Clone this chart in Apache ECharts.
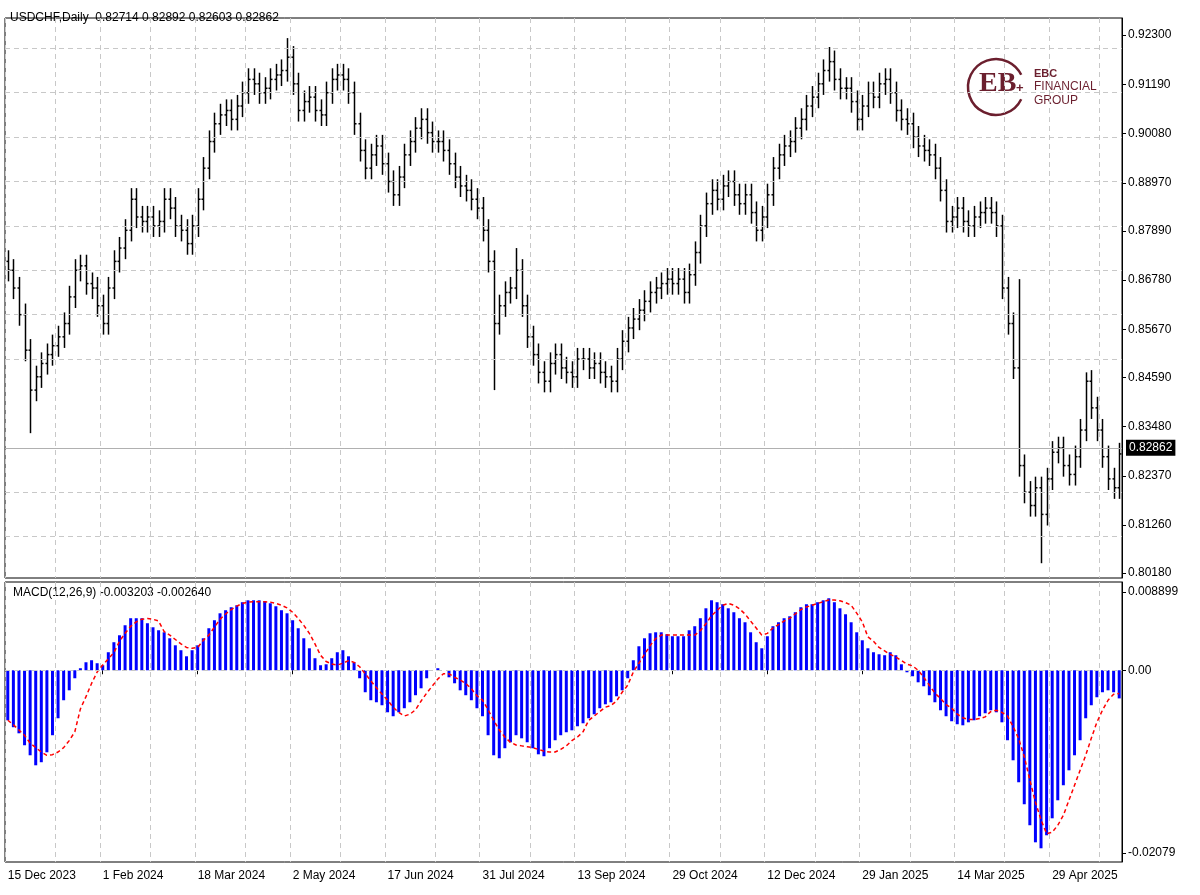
<!DOCTYPE html>
<html><head><meta charset="utf-8">
<script src="https://cdn.jsdelivr.net/npm/echarts@6/dist/echarts.min.js"></script>
<style>html,body{margin:0;padding:0;background:#fff}#c{width:1200px;height:895px}</style>
</head><body><div id="c"></div>
<script>
const closes=[0.870,0.866,0.860,0.852,0.843,0.846,0.849,0.851,0.853,0.855,
0.858,0.864,0.870,0.871,0.867,0.866,0.862,0.858,0.866,0.872,
0.875,0.879,0.886,0.882,0.881,0.882,0.880,0.881,0.886,0.884,
0.880,0.879,0.876,0.880,0.886,0.893,0.899,0.903,0.905,0.906,
0.904,0.907,0.910,0.913,0.912,0.910,0.911,0.913,0.914,0.915,
0.918,0.912,0.906,0.908,0.909,0.906,0.905,0.910,0.913,0.914,
0.913,0.910,0.903,0.897,0.893,0.896,0.898,0.894,0.890,0.887,
0.891,0.896,0.899,0.902,0.904,0.901,0.899,0.899,0.897,0.894,
0.891,0.889,0.888,0.886,0.884,0.879,0.872,0.858,0.862,0.865,
0.866,0.870,0.862,0.855,0.851,0.847,0.845,0.849,0.851,0.848,
0.847,0.846,0.850,0.850,0.848,0.849,0.847,0.846,0.845,0.850,
0.854,0.857,0.859,0.861,0.863,0.865,0.866,0.867,0.868,0.867,
0.868,0.865,0.869,0.874,0.880,0.885,0.888,0.886,0.889,0.890,
0.887,0.885,0.887,0.883,0.879,0.882,0.887,0.893,0.896,0.898,
0.899,0.902,0.904,0.907,0.909,0.912,0.915,0.917,0.913,0.911,
0.911,0.908,0.904,0.907,0.910,0.909,0.912,0.913,0.910,0.906,
0.904,0.903,0.900,0.898,0.897,0.896,0.893,0.888,0.881,0.882,
0.884,0.881,0.880,0.882,0.883,0.884,0.883,0.880,0.866,0.858,
0.848,0.826,0.820,0.817,0.821,0.815,0.823,0.829,0.830,0.826,
0.824,0.828,0.834,0.845,0.839,0.834,0.828,0.823,0.821,0.82862];
const firstOpen=0.8720;
const spikes={4:{l:0.8333},50:{h:0.9223},87:{l:0.8430},91:{h:0.8750},147:{h:0.9203},185:{l:0.8040},193:{h:0.8470},181:{h:0.8680}};
const wick=0.0025;
// MACD values in units of 1e-5
const hist=[-569,-648,-717,-853,-967,-1081,-1046,-933,-739,-546,
-341,-228,-91,23,91,114,80,57,205,319,
398,512,592,592,592,535,489,455,432,364,
284,228,159,228,284,364,478,569,648,683,
717,739,774,796,796,796,785,762,728,683,
648,569,478,364,250,137,57,68,137,205,
228,159,91,-91,-250,-341,-364,-398,-478,-523,
-478,-432,-364,-284,-205,-91,0,23,0,-80,
-148,-228,-284,-341,-432,-523,-739,-967,-1001,-887,
-819,-739,-774,-819,-887,-956,-978,-887,-796,-739,
-705,-683,-637,-603,-546,-501,-432,-387,-364,-296,
-228,-91,114,273,364,421,432,432,410,387,
387,387,455,501,592,705,796,774,751,705,
660,592,546,432,319,250,387,501,546,592,
614,660,717,751,751,774,796,819,774,705,
637,546,432,341,250,205,182,171,205,171,
68,-23,-68,-137,-182,-284,-364,-455,-523,-580,
-614,-626,-592,-569,-523,-489,-455,-478,-592,-796,
-1024,-1274,-1524,-1763,-1957,-2025,-1877,-1684,-1479,-1308,
-1138,-967,-796,-546,-398,-307,-250,-228,-250,-320];
const signal=[-569,-620,-680,-740,-830,-880,-930,-967,-960,-930,
-880,-800,-700,-440,-300,-150,-20,60,130,200,
330,420,500,550,580,590,580,560,440,400,
350,300,260,250,260,340,400,490,580,640,
690,730,760,775,780,780,780,775,760,740,
710,660,590,510,420,300,170,100,70,60,
80,110,90,40,-40,-120,-200,-270,-340,-420,
-480,-520,-500,-450,-350,-260,-180,-100,-40,-40,
-80,-110,-150,-210,-290,-340,-450,-570,-680,-760,
-820,-850,-860,-870,-880,-900,-920,-930,-930,-900,
-860,-800,-760,-700,-570,-520,-470,-420,-400,-350,
-250,-170,-20,80,180,280,360,400,400,400,
400,400,400,400,450,530,620,680,740,760,
740,700,640,560,480,400,420,480,520,560,
590,640,690,720,740,760,780,800,800,790,
770,740,650,550,380,330,260,220,180,150,
110,70,50,0,-80,-170,-260,-320,-390,-430,
-500,-540,-560,-560,-550,-530,-470,-455,-480,-520,
-640,-780,-980,-1250,-1500,-1700,-1860,-1843,-1763,-1650,
-1479,-1308,-1138,-967,-774,-592,-455,-341,-273,-264];
const dateLabels=['15 Dec 2023','1 Feb 2024','18 Mar 2024','2 May 2024','17 Jun 2024','31 Jul 2024','13 Sep 2024','29 Oct 2024','12 Dec 2024','29 Jan 2025','14 Mar 2025','29 Apr 2025'];
const priceTicks=[0.92300,0.91190,0.90080,0.88970,0.87890,0.86780,0.85670,0.84590,0.83480,0.82370,0.81260,0.80180];
const macdTicks=[0.008899,0,-0.02079];
const lastPrice=0.82862;

const N=closes.length, STEP=17;
const cats=closes.map((_,i)=>i);
const ohlc=closes.map((c,i)=>{const o=i?closes[i-1]:firstOpen;const s=spikes[i]||{};
 const h=s.h!==undefined?s.h:Math.max(o,c)+wick;const l=s.l!==undefined?s.l:Math.min(o,c)-wick;return [i,o,h,l,c];});
const histV=hist.map(v=>v/1e5), sigV=signal.map(v=>v/1e5);
const vgrid=(i)=>i%STEP===0||i%STEP===9;
const chart=echarts.init(document.getElementById('c'));
const axisTxt={color:'#000',fontSize:12,fontFamily:'Arial, Liberation Sans'};
chart.setOption({
 animation:false,
 grid:[{left:5,right:78,top:18,bottom:317,show:true,borderColor:'#000',borderWidth:1},
       {left:5,right:78,top:582,bottom:33,show:true,borderColor:'#000',borderWidth:1}],
 xAxis:[{type:'category',data:cats,gridIndex:0,axisLine:{show:false},axisTick:{show:false},axisLabel:{show:false},
   splitLine:{show:true,interval:(i)=>vgrid(i),lineStyle:{color:'#c8c8c8',type:[5,4]}}},
  {type:'category',data:cats,gridIndex:1,axisLine:{show:false},
   axisTick:{show:true,interval:(i)=>i%STEP===0,length:4,lineStyle:{color:'#000'},alignWithLabel:true},
   axisLabel:{show:true,interval:(i)=>i%STEP===0,align:'left',...axisTxt,margin:8,formatter:(v)=>dateLabels[v/STEP]||''},
   splitLine:{show:true,interval:(i)=>vgrid(i),lineStyle:{color:'#c8c8c8',type:[5,4]}}}],
 yAxis:[{type:'value',gridIndex:0,position:'right',min:0.80067,max:0.92683,splitLine:{show:false},
   axisLine:{show:true,lineStyle:{color:'#000'}},axisTick:{show:true,customValues:priceTicks,length:4,inside:false},
   axisLabel:{...axisTxt,customValues:priceTicks,formatter:(v)=>v.toFixed(5),margin:6}},
  {type:'value',gridIndex:1,position:'right',min:-0.02181,max:0.01004,splitLine:{show:false},
   axisLine:{show:true,lineStyle:{color:'#000'}},axisTick:{show:true,customValues:macdTicks,length:4},
   axisLabel:{...axisTxt,customValues:macdTicks,margin:6,formatter:(v)=>v===0?'0.00':(v>0?v.toFixed(6):v.toFixed(5))}}],
 series:[
  {type:'custom',xAxisIndex:0,yAxisIndex:0,data:ohlc,encode:{x:0,y:[1,2,3,4]},
   renderItem:(p,api)=>{const x=api.value(0);const po=api.coord([x,api.value(1)]),ph=api.coord([x,api.value(2)]),pl=api.coord([x,api.value(3)]),pc=api.coord([x,api.value(4)]);
     const cx=Math.round(po[0])+0.5;const st={stroke:'#000',lineWidth:1.5};
     return {type:'group',children:[
      {type:'line',shape:{x1:cx,y1:ph[1],x2:cx,y2:pl[1]},style:st},
      {type:'line',shape:{x1:cx-2,y1:po[1],x2:cx,y2:po[1]},style:st},
      {type:'line',shape:{x1:cx,y1:pc[1],x2:cx+2,y2:pc[1]},style:st}]};},
   markLine:{silent:true,symbol:'none',animation:false,data:[
     ...priceTicks.map(v=>({yAxis:v,lineStyle:{color:'#c8c8c8',type:[5,4],width:1},label:{show:false}})),
     {yAxis:lastPrice,lineStyle:{color:'#b0b0b0',type:'solid',width:1},
      label:{show:true,position:'end',formatter:lastPrice.toFixed(5),backgroundColor:'#000',color:'#fff',padding:[2,3],fontSize:12,fontFamily:'Arial, Liberation Sans',distance:4}}]}},
  {type:'bar',xAxisIndex:1,yAxisIndex:1,data:histV,barWidth:3,itemStyle:{color:'#0000ff'}},
  {type:'line',xAxisIndex:1,yAxisIndex:1,data:sigV,showSymbol:false,lineStyle:{color:'#ff0000',type:[4,3],width:1.5},
   markLine:{silent:true,symbol:'none',data:[{yAxis:0,lineStyle:{color:'#c8c8c8',type:[5,4],width:1},label:{show:false}}]}}
 ],
 graphic:[
  {type:'text',left:10,top:12,style:{text:'USDCHF,Daily  0.82714 0.82892 0.82603 0.82862',fill:'#000',font:'12px Arial, Liberation Sans'}},
  {type:'text',left:13,top:587,style:{text:'MACD(12,26,9) -0.003203 -0.002640',fill:'#000',font:'12px Arial, Liberation Sans'}},
  {type:'arc',shape:{cx:996,cy:87,r:28,startAngle:0.45,endAngle:-0.45+Math.PI*2},style:{stroke:'#6b1f2e',lineWidth:2.5,fill:null}},
  {type:'text',left:979,top:70,style:{text:'EB',fill:'#6b1f2e',font:'bold 28px Liberation Serif'}},
  {type:'text',left:1016,top:82,style:{text:'+',fill:'#6b1f2e',font:'bold 13px Arial'}},
  {type:'text',left:1034,top:68,style:{text:'EBC',fill:'#6b1f2e',font:'bold 11px Arial, Liberation Sans'}},
  {type:'text',left:1034,top:81,style:{text:'FINANCIAL',fill:'#6b1f2e',font:'12px Arial, Liberation Sans'}},
  {type:'text',left:1034,top:95,style:{text:'GROUP',fill:'#6b1f2e',font:'12px Arial, Liberation Sans'}}
 ]
});
</script></body></html>
